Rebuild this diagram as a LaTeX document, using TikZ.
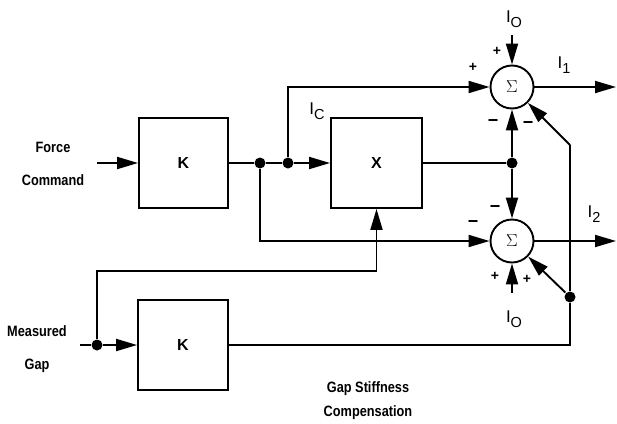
\documentclass[tikz,border=0pt]{standalone}
\usepackage{fontspec}
\usetikzlibrary{arrows.meta}
\newfontfamily\labfont[FakeStretch=0.85]{Liberation Sans}
\newfontfamily\ifont{Liberation Sans}
\newcommand\Isub[1]{{\fontsize{17}{17}\selectfont\ifont I}\raisebox{-5.5pt}{\fontsize{14.5}{14.5}\selectfont\ifont #1}}
\begin{document}
\begin{tikzpicture}[x=1pt,y=-1pt,line width=1.9pt,
  >={Triangle[length=21pt,width=12pt]},
  blk/.style={draw,minimum width=90pt,minimum height=90pt,inner sep=0pt,
    font=\ifont\bfseries\fontsize{16}{16}\selectfont},
  sumnode/.style={draw,circle,minimum size=43pt,inner sep=0pt,
    font=\fontsize{18}{18}\selectfont},
  dot/.style={circle,fill,inner sep=0pt,minimum size=11pt},
  txt/.style={font=\labfont\bfseries\fontsize{15}{15}\selectfont,inner sep=0pt},
  sgn/.style={font=\ifont\bfseries\fontsize{14}{14}\selectfont,inner sep=0pt},
  msgn/.style={font=\ifont\bfseries\fontsize{18}{18}\selectfont,inner sep=0pt},
  ilab/.style={inner sep=0pt}]
\useasboundingbox (0,0) rectangle (617,423);
% blocks
\node[blk,minimum width=89pt] (k1) at (183.5,163) {K};
\node[blk,minimum width=91pt] (x) at (376.5,163) {X};
\node[blk] (k2) at (183,345) {K};
\node[sumnode] (s1) at (512,87) {$\Sigma$};
\node[sumnode] (s2) at (512,241) {$\Sigma$};
% junctions
\node[dot] (j1) at (260,163) {};
\node[dot] (j2) at (288,163) {};
\node[dot] (j3) at (512,163) {};
\node[dot] (j4) at (97,345) {};
\node[dot] (j5) at (570,297) {};
% free ends
\coordinate (fcin) at (97,163);
\coordinate (mgin) at (80,345);
\coordinate (i0t) at (512,35);
\coordinate (i0b) at (512,293);
\coordinate (o1) at (616,87);
\coordinate (o2) at (616,241);
\coordinate (gapup) at (376.5,271);
\coordinate (bend) at (570,145);
% connectors
\draw[->] (fcin) -- (k1.west);
\draw (k1.east) -- (j1) -- (j2);
\draw[->] (j2) -- (x.west);
\draw[->] (j2) |- (s1.west);
\draw[->] (j1) |- (s2.west);
\draw (x.east) -- (j3);
\draw[->] (j3) -- (s1.south);
\draw[->] (j3) -- (s2.north);
\draw[->] (i0t) -- (s1.north);
\draw[->] (i0b) -- (s2.south);
\draw[->] (s1.east) -- (o1);
\draw[->] (s2.east) -- (o2);
\draw (mgin) -- (j4);
\draw[->] (j4) -- (k2.west);
\draw (j4) |- (gapup);
\draw[->] (gapup) -- (x.south);
\draw (k2.east) -| (j5);
\draw[->] (j5) -- (s2);
\draw (j5) -- (bend);
\draw[->] (bend) -- (s1);
% text labels
\node[txt] (force) at (53,147) {Force};
\node[txt] (command) at (53,180) {Command};
\node[txt] (meas) at (37,331) {Measured};
\node[txt] (gap) at (37,366) {Gap};
\node[txt] (gs) at (368,389) {Gap Stiffness};
\node[txt] (comp) at (368,413) {Compensation};
% current labels
\node[ilab] (li0t) at (514,19) {\Isub{O}};
\node[ilab] (li0b) at (514,319) {\Isub{O}};
\node[ilab] (li1) at (564,65) {\Isub{1}};
\node[ilab] (li2) at (594,214) {\Isub{2}};
\node[ilab] (lic) at (317,111) {\Isub{C}};
% signs
\node[sgn] (p1) at (497,51) {+};
\node[sgn] (p2) at (473,67) {+};
\node[msgn] (m1) at (493,123) {−};
\node[msgn] (m2) at (528,125) {−};
\node[msgn] (m3) at (495,209) {−};
\node[msgn] (m4) at (473,224) {−};
\node[sgn] (p3) at (495,276) {+};
\node[sgn] (p4) at (527,279) {+};
\end{tikzpicture}
\end{document}
